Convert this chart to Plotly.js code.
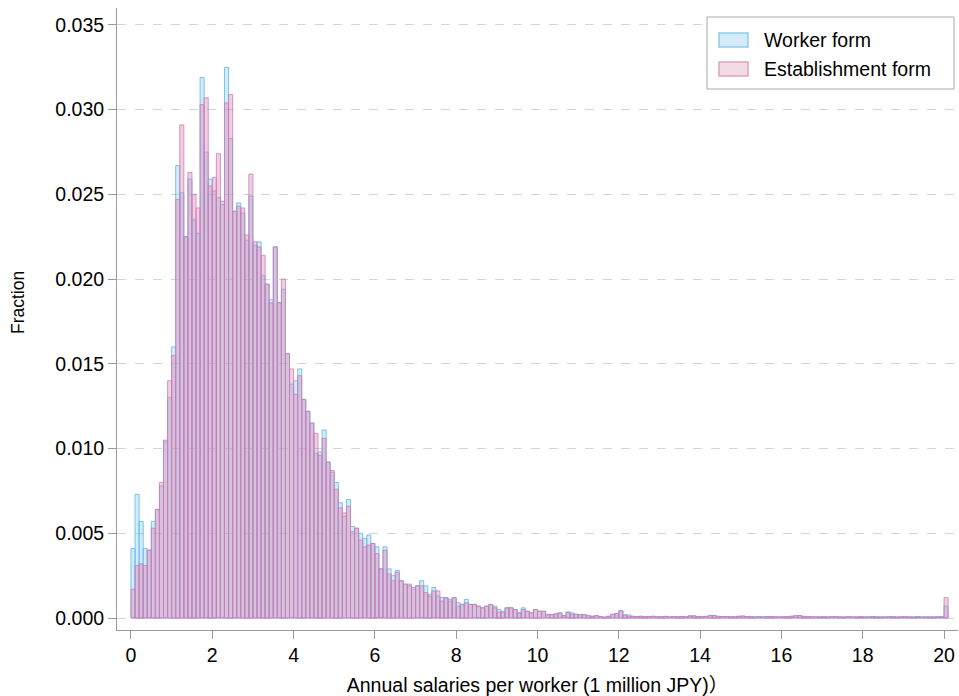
<!DOCTYPE html>
<html>
<head>
<meta charset="utf-8">
<script src="https://cdn.plot.ly/plotly-3.0.1.min.js"></script>
<style>
  html, body { margin: 0; padding: 0; background: #ffffff; }
  #chart { width: 959px; height: 696px; }
</style>
</head>
<body>
<div id="chart"></div>
<script>
// Histogram bins: width 0.1 (1 million JPY), starting at 0
const binWidth = 0.1;

// Fraction per bin, "Worker form"
const worker = [
  0.0041, 0.0073, 0.0057, 0.0041, 0.0040, 0.0057, 0.0064, 0.0078, 0.0104, 0.0130,
  0.0160, 0.0267, 0.0251, 0.0225, 0.0259, 0.0235, 0.0227, 0.0319, 0.0275, 0.0259,
  0.0252, 0.0248, 0.0244, 0.0325, 0.0283, 0.0240, 0.0245, 0.0239, 0.0223, 0.0249,
  0.0220, 0.0222, 0.0202, 0.0197, 0.0188, 0.0219, 0.0186, 0.0194, 0.0156, 0.0138,
  0.0140, 0.0147, 0.0129, 0.0122, 0.0115, 0.0097, 0.0098, 0.0111, 0.0092, 0.0086,
  0.0080, 0.0068, 0.0060, 0.0070, 0.0054, 0.0053, 0.0050, 0.0047, 0.0049, 0.0044,
  0.0042, 0.0029, 0.0042, 0.0029, 0.0025, 0.0028, 0.0022, 0.0020, 0.0019, 0.0018,
  0.0019, 0.0022, 0.0019, 0.0014, 0.0018, 0.0013, 0.0012, 0.0012, 0.0011, 0.0012,
  0.0009, 0.0008, 0.0011, 0.0008, 0.0008, 0.0007, 0.0006, 0.0007, 0.0008, 0.0007,
  0.0005, 0.0004, 0.0006, 0.0006, 0.0005, 0.0003, 0.0006, 0.0004, 0.0003, 0.0005,
  0.0004, 0.0004, 0.0002, 0.0002, 0.00024, 0.0003, 0.00014, 0.00036, 0.0003, 0.00022,
  0.0002, 0.00022, 0.00014, 0.0001, 0.00014, 0.00008, 0.00005, 0.0001, 0.00022, 0.00026,
  0.00043, 0.00018, 0.00018, 0.0001, 0.00008, 0.0001, 0.00008, 0.00009, 0.0001, 0.00007,
  0.00008, 0.0001, 0.00006, 0.00008, 0.00007, 0.00009, 0.00008, 0.00013, 0.00012, 0.00008,
  0.00007, 0.0001, 0.00014, 0.00015, 0.0001, 0.00008, 0.00009, 0.00007, 0.00008, 0.0001,
  0.00012, 0.00009, 0.00007, 0.00006, 0.00008, 0.00007, 0.00009, 0.00008, 0.00007, 0.00006,
  0.00008, 0.00009, 0.0001, 0.00014, 0.00015, 0.0001, 0.00007, 0.00008, 0.00006, 0.00007,
  0.00008, 0.00006, 0.00007, 0.00009, 0.00006, 0.00007, 0.00008, 0.00006, 0.00007, 0.00008,
  0.00006, 0.00007, 0.00009, 0.00006, 0.00007, 0.00006, 0.00008, 0.00007, 0.00006, 0.00008,
  0.00007, 0.00006, 0.00007, 0.00008, 0.00006, 0.00007, 0.00006, 0.00007, 0.00006, 0.00008,
  0.0007
];

// Fraction per bin, "Establishment form"
const establishment = [
  0.0017, 0.0031, 0.0032, 0.0031, 0.0040, 0.0053, 0.0064, 0.0080, 0.0105, 0.0140,
  0.0155, 0.0247, 0.0291, 0.0225, 0.0263, 0.0250, 0.0242, 0.0303, 0.0307, 0.0255,
  0.0260, 0.0274, 0.0246, 0.0304, 0.0309, 0.0240, 0.0243, 0.0242, 0.0226, 0.0262,
  0.0222, 0.0219, 0.0214, 0.0197, 0.0186, 0.0219, 0.0186, 0.0200, 0.0156, 0.0147,
  0.0132, 0.0143, 0.0129, 0.0122, 0.0115, 0.0109, 0.0096, 0.0106, 0.0092, 0.0087,
  0.0076, 0.0065, 0.0062, 0.0066, 0.0051, 0.0053, 0.0046, 0.0042, 0.0043, 0.0044,
  0.0038, 0.0029, 0.0040, 0.0026, 0.0022, 0.0027, 0.0022, 0.0020, 0.0020, 0.0017,
  0.0019, 0.0019, 0.0015, 0.0013, 0.0016, 0.0016, 0.0010, 0.0012, 0.0010, 0.0012,
  0.0007, 0.0008, 0.0009, 0.0008, 0.0008, 0.0007, 0.0006, 0.0007, 0.0008, 0.0006,
  0.00035, 0.00035, 0.0006, 0.0006, 0.0005, 0.0003, 0.0005, 0.0004, 0.0003, 0.0005,
  0.0004, 0.0004, 0.0002, 0.0002, 0.00024, 0.0003, 0.00014, 0.00032, 0.00022, 0.00022,
  0.0002, 0.00018, 0.00014, 0.0001, 0.00014, 0.00008, 0.00005, 0.0001, 0.00022, 0.00026,
  0.00043, 0.00018, 0.0001, 0.0001, 0.00009, 0.0001, 0.00007, 0.00009, 0.0001, 0.00008,
  0.00008, 0.00009, 0.00007, 0.00008, 0.00008, 0.00009, 0.00007, 0.00012, 0.00013, 0.00008,
  0.00008, 0.00009, 0.00015, 0.00014, 0.00009, 0.00008, 0.00008, 0.00008, 0.00007, 0.0001,
  0.00011, 0.00008, 0.00008, 0.00007, 0.00008, 0.00006, 0.00008, 0.00009, 0.00007, 0.00007,
  0.00007, 0.00008, 0.0001, 0.00013, 0.00014, 0.00009, 0.00008, 0.00007, 0.00007, 0.00006,
  0.00008, 0.00007, 0.00008, 0.00008, 0.00007, 0.00006, 0.00008, 0.00007, 0.00006, 0.00008,
  0.00007, 0.00006, 0.00008, 0.00007, 0.00006, 0.00007, 0.00007, 0.00008, 0.00006, 0.00007,
  0.00008, 0.00007, 0.00006, 0.00008, 0.00007, 0.00006, 0.00007, 0.00006, 0.00008, 0.00007,
  0.0012
];

const seriesNames = ['Worker form', 'Establishment form'];
const xTickVals = [0, 2, 4, 6, 8, 10, 12, 14, 16, 18, 20];
const yTickVals = [0, 0.005, 0.010, 0.015, 0.020, 0.025, 0.030, 0.035];
const xTitle = 'Annual salaries per worker (1 million JPY)）';
const yTitle = 'Fraction';

// ---- styles ----
const FONT = 'Liberation Sans, Arial, Helvetica, Noto Sans CJK JP, sans-serif';
const blueFill = 'rgba(140,205,240,0.38)';
const blueLine = 'rgba(105,188,236,0.88)';
const pinkFill = 'rgba(212,128,180,0.38)';
const pinkLine = 'rgba(212,122,178,0.78)';

const centers = worker.map((_, i) => (i + 0.5) * binWidth);

const traces = [
  {
    type: 'bar', name: seriesNames[0], x: centers, y: worker, width: binWidth,
    marker: { color: blueFill, line: { color: blueLine, width: 1 } },
    showlegend: false, hoverinfo: 'x+y'
  },
  {
    type: 'bar', name: seriesNames[1], x: centers, y: establishment, width: binWidth,
    marker: { color: pinkFill, line: { color: pinkLine, width: 1 } },
    showlegend: false, hoverinfo: 'x+y'
  }
];

// plot area in pixels
const L = 117, R = 958, T = 8, B = 630;
const W = 959, H = 696;
const px = v => (v - L) / (R - L);
const py = v => (B - v) / (B - T);

const shapes = [
  // legend box
  { type: 'rect', xref: 'paper', yref: 'paper', x0: px(707), x1: px(954), y0: py(17), y1: py(89),
    line: { color: '#a8a8a8', width: 1 }, fillcolor: '#ffffff', layer: 'above' },
  // swatches
  { type: 'rect', xref: 'paper', yref: 'paper', x0: px(719), x1: px(748), y0: py(33), y1: py(47),
    line: { color: '#8dcbee', width: 1.5 }, fillcolor: '#d5ecf8', layer: 'above' },
  { type: 'rect', xref: 'paper', yref: 'paper', x0: px(719), x1: px(748), y0: py(62), y1: py(76),
    line: { color: '#dca4c4', width: 1.5 }, fillcolor: '#f2dbe7', layer: 'above' }
];

const annotations = [
  { xref: 'paper', yref: 'paper', x: px(762), y: py(40), xanchor: 'left', yanchor: 'middle',
    text: seriesNames[0], showarrow: false, font: { family: FONT, size: 19.5, color: '#000' } },
  { xref: 'paper', yref: 'paper', x: px(762), y: py(69), xanchor: 'left', yanchor: 'middle',
    text: seriesNames[1], showarrow: false, font: { family: FONT, size: 19.5, color: '#000' } },
  // y-axis title
  { xref: 'paper', yref: 'paper', x: px(18), y: py(303), xanchor: 'center', yanchor: 'middle',
    text: yTitle, textangle: -90, showarrow: false, font: { family: FONT, size: 17.5, color: '#000' } }
];

const layout = {
  width: W, height: H,
  margin: { l: L, r: W - R, t: T, b: H - B, pad: 0 },
  paper_bgcolor: '#ffffff', plot_bgcolor: '#ffffff',
  barmode: 'overlay', bargap: 0,
  font: { family: FONT, size: 19.5, color: '#000' },
  showlegend: false,
  xaxis: {
    range: [-0.344, 20.344],
    tickmode: 'array', tickvals: xTickVals, ticktext: xTickVals.map(String),
    ticks: 'outside', ticklen: 8, tickcolor: '#9a9a9a', tickwidth: 1,
    showline: true, linecolor: '#9a9a9a', linewidth: 1,
    showgrid: false, zeroline: false,
    tickfont: { family: FONT, size: 19.5, color: '#000' },
    title: { text: xTitle, font: { family: FONT, size: 19.5, color: '#000' }, standoff: 12 }
  },
  yaxis: {
    range: [-0.000708, 0.036],
    tickmode: 'array', tickvals: yTickVals, ticktext: yTickVals.map(v => v.toFixed(3)),
    ticks: 'outside', ticklen: 8, tickcolor: '#9a9a9a', tickwidth: 1,
    showline: true, linecolor: '#9a9a9a', linewidth: 1,
    showgrid: true, gridcolor: '#d4d4d4', gridwidth: 1, griddash: 'dash',
    zeroline: false,
    tickfont: { family: FONT, size: 19.5, color: '#000' }
  },
  shapes: shapes,
  annotations: annotations
};

Plotly.newPlot('chart', traces, layout, { displayModeBar: false, staticPlot: true });
</script>
</body>
</html>
